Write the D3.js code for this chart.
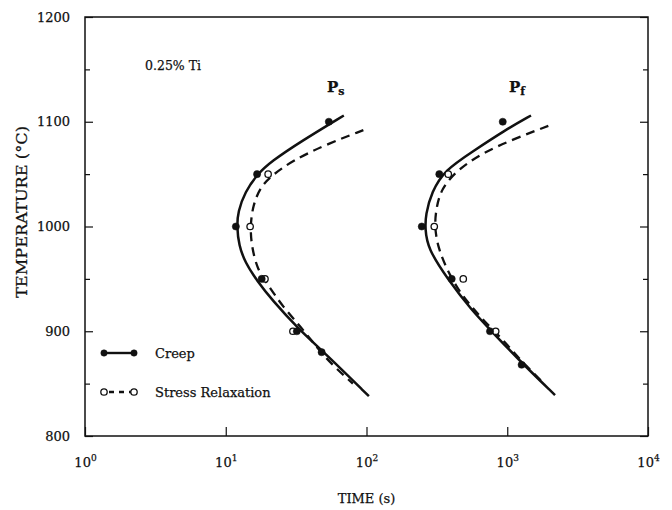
<!DOCTYPE html>
<html>
<head>
<meta charset="utf-8">
<script src="https://cdn.jsdelivr.net/npm/d3@7"></script>
<style>
  body { margin: 0; background: #fff; }
  text { font-family: "DejaVu Serif", serif; fill: #111; stroke: #111; stroke-width: 0.25px; }
</style>
</head>
<body>
<div id="chart"></div>
<script>
// curves: [temperature (C), time (s)]
var psCreepCurve = [[1106, 69], [1081, 34], [1062, 21], [1050, 16.8], [1033, 13.7], [1014, 12.2], [1000, 12.0], [982, 12.4], [966, 13.7], [948, 16.7], [930, 21.3], [903, 32.4], [879, 50.7], [838, 104]];
var psRelaxCurve = [[1092, 95], [1078, 51], [1063, 30], [1049, 21.3], [1037, 17.5], [1020, 15.6], [1000, 14.9], [980, 15.3], [958, 16.9], [946, 19.6], [923, 25.5], [903, 34.8], [885, 44], [868, 57], [850, 80]];
var pfCreepCurve = [[1106, 1475], [1092, 964], [1071, 559], [1054, 361], [1033, 290], [1011, 263], [998, 261], [979, 272], [949, 381], [920, 559], [900, 775], [873, 1200], [839, 2185]];
var pfRelaxCurve = [[1096, 1958], [1084, 1135], [1070, 658], [1052, 425], [1036, 342], [1020, 315], [1000, 303], [979, 324], [960, 370], [940, 445], [923, 559], [909, 695], [893, 912], [882, 1076], [868, 1337], [849, 1854]];

// measured points
var psCreepPts = [[1100, 54], [1050, 16.7], [1000, 11.8], [950, 18], [900, 32], [880, 48]];
var psRelaxPts = [[1050, 20], [1000, 14.9], [950, 19], [900, 30]];
var pfCreepPts = [[1100, 929], [1050, 329], [1000, 247], [950, 403], [900, 754], [868, 1265]];
var pfRelaxPts = [[1050, 381], [1000, 303], [950, 487], [900, 828]];

var xTicks = [1, 10, 100, 1000, 10000];
var yTicks = [800, 900, 1000, 1100, 1200];
var yMinorTicks = [850, 950, 1050, 1150];
var legendItems = ["Creep", "Stress Relaxation"];

var width = 672, height = 510;
var margin = {top: 17, right: 24, bottom: 74, left: 85};

var svg = d3.select("#chart").append("svg")
  .attr("width", width)
  .attr("height", height);

var x = d3.scaleLog().domain([1, 10000]).range([margin.left, width - margin.right]);
var y = d3.scaleLinear().domain([800, 1200]).range([height - margin.bottom, margin.top]);

// frame
svg.append("rect")
  .attr("x", x(1)).attr("y", y(1200))
  .attr("width", x(10000) - x(1)).attr("height", y(800) - y(1200))
  .attr("fill", "none").attr("stroke", "#111").attr("stroke-width", 1.5);

// left axis, ticks inward
var yAxisG = svg.append("g")
  .attr("transform", "translate(" + x(1) + ",0)")
  .call(d3.axisLeft(y).tickValues(yTicks).tickSize(-8).tickPadding(15).tickFormat(d3.format("d")));
yAxisG.select(".domain").remove();
yAxisG.selectAll(".tick text").attr("font-size", 13).attr("font-family", "DejaVu Serif").attr("fill", "#111");
svg.append("g")
  .attr("transform", "translate(" + x(1) + ",0)")
  .call(d3.axisLeft(y).tickValues(yMinorTicks).tickSize(-5).tickFormat(""))
  .select(".domain").remove();

// right axis, mirrored ticks
svg.append("g")
  .attr("transform", "translate(" + x(10000) + ",0)")
  .call(d3.axisRight(y).tickValues(yTicks).tickSize(-8).tickFormat(""))
  .select(".domain").remove();
svg.append("g")
  .attr("transform", "translate(" + x(10000) + ",0)")
  .call(d3.axisRight(y).tickValues(yMinorTicks).tickSize(-5).tickFormat(""))
  .select(".domain").remove();

// bottom axis
var xAxisG = svg.append("g")
  .attr("transform", "translate(0," + y(800) + ")")
  .call(d3.axisBottom(x).tickValues(xTicks).tickSize(-9).tickPadding(22).tickFormat(""));
xAxisG.select(".domain").remove();
xAxisG.selectAll(".tick text").each(function(d) {
  var t = d3.select(this).attr("font-size", 13).attr("font-family", "DejaVu Serif").attr("fill", "#111");
  t.append("tspan").text("10");
  t.append("tspan").attr("dy", -6).attr("font-size", 9).text(Math.round(Math.log10(d)));
});
svg.selectAll(".tick line").attr("stroke", "#111").attr("stroke-width", 1.2);

// axis titles
svg.append("text")
  .attr("transform", "translate(27,212) rotate(-90)")
  .attr("text-anchor", "middle")
  .attr("font-size", 14)
  .attr("textLength", 172)
  .attr("lengthAdjust", "spacingAndGlyphs")
  .text("TEMPERATURE (°C)");
svg.append("text")
  .attr("x", x(100)).attr("y", 503)
  .attr("text-anchor", "middle")
  .attr("font-size", 13)
  .text("TIME (s)");

// annotations
svg.append("text").attr("x", 145).attr("y", 70).attr("font-size", 12.5).text("0.25% Ti");
var ps = svg.append("text").attr("x", 327).attr("y", 92).attr("font-size", 15).attr("font-weight", "bold");
ps.append("tspan").text("P");
ps.append("tspan").attr("dy", 3).attr("font-size", 11).text("s");
var pf = svg.append("text").attr("x", 509).attr("y", 92).attr("font-size", 15).attr("font-weight", "bold");
pf.append("tspan").text("P");
pf.append("tspan").attr("dy", 3).attr("font-size", 11).text("f");

var line = d3.line()
  .x(function(d) { return x(d[1]); })
  .y(function(d) { return y(d[0]); })
  .curve(d3.curveBasis);

function drawCurve(data, dashed) {
  svg.append("path")
    .datum(data)
    .attr("d", line)
    .attr("fill", "none")
    .attr("stroke", "#111")
    .attr("stroke-width", dashed ? 2.3 : 2.5)
    .attr("stroke-dasharray", dashed ? "9,6" : null);
}
drawCurve(psCreepCurve, false);
drawCurve(psRelaxCurve, true);
drawCurve(pfCreepCurve, false);
drawCurve(pfRelaxCurve, true);

function drawPoints(data, open) {
  svg.append("g").selectAll("circle")
    .data(data)
    .enter().append("circle")
    .attr("cx", function(d) { return x(d[1]); })
    .attr("cy", function(d) { return y(d[0]); })
    .attr("r", open ? 3.2 : 3.6)
    .attr("fill", open ? "#fff" : "#111")
    .attr("stroke", "#111")
    .attr("stroke-width", open ? 1.3 : 0.5);
}
drawPoints(psRelaxPts, true);
drawPoints(pfRelaxPts, true);
drawPoints(psCreepPts, false);
drawPoints(pfCreepPts, false);

// legend
var legend = svg.append("g").attr("class", "legend");
legend.selectAll("g").data(legendItems)
  .enter()
  .append("g")
  .each(function(d, i) {
    var g = d3.select(this);
    var ly = 353 + i * 39;
    var open = i === 1;
    g.append("line")
      .attr("x1", 104).attr("x2", 134)
      .attr("y1", ly).attr("y2", ly)
      .attr("stroke", "#111")
      .attr("stroke-width", 2.4)
      .attr("stroke-dasharray", open ? "5,5" : null)
      .attr("stroke-dashoffset", open ? -5 : 0);
    [104, 134].forEach(function(cx) {
      g.append("circle")
        .attr("cx", cx).attr("cy", ly)
        .attr("r", 3.2)
        .attr("fill", open ? "#fff" : "#111")
        .attr("stroke", "#111")
        .attr("stroke-width", open ? 1.3 : 0.5);
    });
    g.append("text")
      .attr("x", 155).attr("y", ly + 4.5)
      .attr("font-size", 13)
      .text(d);
  });
</script>
</body>
</html>
